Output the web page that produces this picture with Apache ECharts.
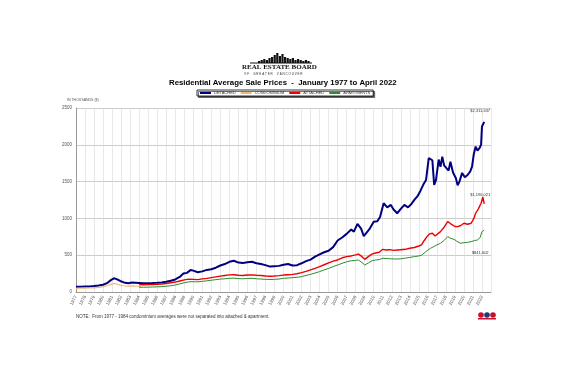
<!DOCTYPE html>
<html>
<head>
<meta charset="utf-8">
<script src="https://cdn.jsdelivr.net/npm/echarts@6/dist/echarts.min.js"></script>
<style>
  html, body { margin: 0; padding: 0; background: #fff; }
  #graph { width: 566px; height: 377px; }
</style>
</head>
<body>
<div id="graph"></div>
<script>
// values in thousands of dollars, x = decimal year
var detached = [
  [1977.0, 70], [1977.5, 72], [1978.0, 74], [1978.5, 76], [1979.0, 80], [1979.5, 88],
  [1980.0, 98], [1980.5, 125], [1980.9, 165], [1981.2, 186], [1981.5, 175], [1981.9, 150],
  [1982.3, 130], [1982.8, 118], [1983.2, 128], [1983.6, 125], [1984.0, 122], [1984.5, 118],
  [1985.0, 120], [1985.5, 122], [1986.0, 125], [1986.5, 130], [1987.0, 138], [1987.5, 152],
  [1988.0, 170], [1988.5, 205], [1988.9, 250], [1989.3, 260], [1989.7, 300], [1990.0, 290],
  [1990.5, 268], [1991.0, 280], [1991.5, 300], [1992.0, 310], [1992.5, 330], [1993.0, 360],
  [1993.5, 380], [1994.0, 410], [1994.5, 425], [1995.0, 400], [1995.5, 395], [1996.0, 405],
  [1996.5, 410], [1997.0, 390], [1997.5, 380], [1998.0, 365], [1998.5, 345], [1999.0, 350],
  [1999.5, 355], [2000.0, 370], [2000.5, 380], [2001.0, 360], [2001.5, 365], [2002.0, 390],
  [2002.5, 420], [2003.0, 440], [2003.5, 480], [2004.0, 510], [2004.5, 540], [2005.0, 560],
  [2005.5, 610], [2006.0, 700], [2006.5, 740], [2007.0, 790], [2007.5, 850], [2007.8, 820],
  [2008.2, 925], [2008.6, 860], [2008.9, 760], [2009.1, 775], [2009.5, 850], [2010.0, 956],
  [2010.4, 960], [2010.7, 1020], [2011.1, 1206], [2011.5, 1150], [2011.9, 1183], [2012.2, 1120],
  [2012.6, 1070], [2013.0, 1130], [2013.4, 1183], [2013.8, 1150], [2014.2, 1200], [2014.5, 1251],
  [2014.9, 1310], [2015.2, 1380], [2015.5, 1460], [2015.8, 1523], [2016.1, 1820], [2016.3, 1800],
  [2016.5, 1790], [2016.7, 1455], [2016.9, 1520], [2017.2, 1800], [2017.4, 1700], [2017.6, 1840],
  [2017.8, 1720], [2018.0, 1704], [2018.3, 1650], [2018.5, 1770], [2018.8, 1620], [2019.1, 1550],
  [2019.3, 1450], [2019.5, 1500], [2019.8, 1618], [2020.1, 1560], [2020.4, 1590], [2020.7, 1640],
  [2020.9, 1704], [2021.1, 1880], [2021.3, 1976], [2021.5, 1920], [2021.7, 1950], [2021.9, 2000],
  [2022.0, 2248], [2022.1, 2250], [2022.25, 2312]
];

var condominium = [
  [1977.0, 50], [1977.5, 52], [1978.0, 54], [1978.5, 55], [1979.0, 57], [1979.5, 62],
  [1980.0, 70], [1980.5, 88], [1981.0, 110], [1981.3, 115], [1981.7, 100], [1982.2, 85],
  [1982.7, 80], [1983.2, 82], [1983.7, 78], [1984.2, 76]
];

var attached = [
  [1984.0, 100], [1984.5, 98], [1985.0, 100], [1985.5, 102], [1986.0, 105], [1986.5, 108],
  [1987.0, 115], [1987.5, 125], [1988.0, 135], [1988.5, 150], [1989.0, 165], [1989.5, 175],
  [1990.0, 172], [1990.5, 168], [1991.0, 178], [1991.5, 185], [1992.0, 195], [1992.5, 205],
  [1993.0, 215], [1993.5, 225], [1994.0, 232], [1994.5, 235], [1995.0, 228], [1995.5, 225],
  [1996.0, 230], [1996.5, 232], [1997.0, 228], [1997.5, 225], [1998.0, 218], [1998.5, 215],
  [1999.0, 218], [1999.5, 222], [2000.0, 230], [2000.5, 235], [2001.0, 240], [2001.5, 248],
  [2002.0, 263], [2002.5, 280], [2003.0, 300], [2003.5, 320], [2004.0, 344], [2004.5, 370],
  [2005.0, 395], [2005.5, 420], [2006.0, 435], [2006.5, 465], [2007.0, 480], [2007.5, 490],
  [2008.0, 505], [2008.3, 517], [2008.7, 480], [2009.0, 444], [2009.4, 480], [2009.8, 515],
  [2010.2, 530], [2010.6, 540], [2011.0, 580], [2011.4, 570], [2011.8, 575], [2012.2, 565],
  [2012.6, 571], [2013.0, 575], [2013.5, 580], [2014.0, 594], [2014.5, 605], [2015.0, 625],
  [2015.3, 640], [2015.6, 700], [2015.9, 752], [2016.2, 790], [2016.5, 798], [2016.8, 760],
  [2017.0, 752], [2017.4, 820], [2017.8, 880], [2018.2, 956], [2018.5, 930], [2018.7, 911],
  [2019.0, 890], [2019.3, 888], [2019.6, 900], [2020.0, 934], [2020.4, 920], [2020.8, 934],
  [2021.1, 1000], [2021.3, 1070], [2021.6, 1130], [2021.9, 1206], [2022.1, 1290], [2022.25, 1196]
];

var apartments = [
  [1984.0, 64], [1984.5, 65], [1985.0, 66], [1985.5, 68], [1986.0, 70], [1986.5, 73],
  [1987.0, 78], [1987.5, 85], [1988.0, 95], [1988.5, 110], [1989.0, 125], [1989.5, 138],
  [1990.0, 140], [1990.5, 138], [1991.0, 145], [1991.5, 152], [1992.0, 160], [1992.5, 168],
  [1993.0, 175], [1993.5, 180], [1994.0, 186], [1994.5, 188], [1995.0, 182], [1995.5, 180],
  [1996.0, 184], [1996.5, 186], [1997.0, 180], [1997.5, 176], [1998.0, 172], [1998.5, 170],
  [1999.0, 172], [1999.5, 176], [2000.0, 186], [2000.5, 190], [2001.0, 195], [2001.5, 200],
  [2002.0, 209], [2002.5, 225], [2003.0, 240], [2003.5, 258], [2004.0, 277], [2004.5, 300],
  [2005.0, 320], [2005.5, 345], [2006.0, 367], [2006.5, 390], [2007.0, 410], [2007.5, 425],
  [2008.0, 430], [2008.3, 435], [2008.7, 400], [2009.0, 367], [2009.4, 395], [2009.8, 425],
  [2010.2, 435], [2010.6, 440], [2011.0, 458], [2011.5, 455], [2012.0, 450], [2012.5, 448],
  [2013.0, 451], [2013.5, 460], [2014.0, 470], [2014.5, 480], [2015.0, 490], [2015.3, 500],
  [2015.7, 540], [2016.0, 570], [2016.3, 594], [2016.7, 620], [2017.0, 640], [2017.4, 662],
  [2017.8, 700], [2018.2, 752], [2018.5, 730], [2018.9, 716], [2019.2, 690], [2019.6, 662],
  [2020.0, 670], [2020.4, 675], [2020.8, 684], [2021.2, 700], [2021.5, 707], [2021.8, 740],
  [2022.0, 820], [2022.25, 841]
];

var endLabels = ['$2,311,637', '$1,196,021', '$841,602'];
var seriesNames = ['DETACHED', 'CONDOMINIUM', 'ATTACHED', 'APARTMENTS'];

// skyline for the logo (heights in px)
var skyline = [2, 3, 4, 3, 5, 6, 8, 10, 7, 9, 6, 5, 4, 5, 3, 4, 3, 2, 3, 2];

function endMark(data, text, pos, dy) {
  return {
    silent: true,
    symbol: 'circle',
    symbolSize: 0,
    data: [{
      coord: data[data.length - 1],
      label: {
        show: true, formatter: text, position: pos, offset: [-4, dy],
        fontSize: 4, color: '#333', fontFamily: 'Arial, Liberation Sans'
      }
    }]
  };
}

var dom = document.getElementById('graph');
var myChart = echarts.init(dom);

var skyGraphics = skyline.map(function (h, i) {
  return {
    type: 'rect',
    shape: { x: 258 + i * 2.6, y: 63 - h, width: 2.2, height: h },
    style: { fill: '#111' }
  };
});

var option = {
  animation: false,
  backgroundColor: '#fff',
  title: {
    text: 'Residential Average Sale Prices  -  January 1977 to April 2022',
    left: 164,
    top: 74,
    textStyle: { fontSize: 7.8, fontWeight: 'bold', color: '#000', fontFamily: 'Arial, Liberation Sans' }
  },
  legend: {
    data: seriesNames,
    top: 90,
    left: 197,
    itemWidth: 11,
    itemHeight: 2,
    itemGap: 5,
    padding: [1, 3, 1, 3],
    borderColor: '#000',
    borderWidth: 0.8,
    shadowColor: '#555',
    shadowOffsetX: 1.5,
    shadowOffsetY: 1.5,
    shadowBlur: 0,
    backgroundColor: '#fff',
    icon: 'rect',
    textStyle: { fontSize: 4, color: '#333', fontFamily: 'Arial, Liberation Sans', padding: [0, 0, 0, -2] }
  },
  grid: { left: 76, right: 75, top: 108, bottom: 85 },
  xAxis: {
    type: 'value',
    min: 1977,
    max: 2023,
    interval: 1,
    axisLine: { lineStyle: { color: '#999' } },
    axisTick: { show: false },
    splitLine: { show: true, lineStyle: { color: '#d8d8d8', width: 0.6 } },
    axisLabel: {
      rotate: 62,
      fontSize: 4.5,
      color: '#444',
      margin: 4,
      fontFamily: 'Arial, Liberation Sans',
      formatter: function (v) { return v < 2023 ? String(v) : ''; }
    }
  },
  yAxis: {
    type: 'value',
    min: 0,
    max: 2500,
    interval: 500,
    name: 'IN THOUSANDS ($)',
    nameGap: 6,
    nameTextStyle: { fontSize: 3.5, color: '#555', align: 'left', padding: [0, 0, 0, -9], fontFamily: 'Arial, Liberation Sans' },
    axisLine: { show: true, lineStyle: { color: '#999' } },
    axisTick: { show: false },
    splitLine: { lineStyle: { color: '#aaa', width: 0.6 } },
    axisLabel: {
      fontSize: 4.5, color: '#555', margin: 4, fontFamily: 'Arial, Liberation Sans',
      formatter: function (v) { return String(v); }
    }
  },
  series: [
    {
      name: 'DETACHED', type: 'line', showSymbol: false, symbol: 'none',
      color: '#000080', lineStyle: { width: 2 },
      data: detached,
      markPoint: endMark(detached, endLabels[0], 'top', -4)
    },
    {
      name: 'CONDOMINIUM', type: 'line', showSymbol: false, symbol: 'none',
      color: '#f0b878', lineStyle: { width: 1.2 },
      data: condominium
    },
    {
      name: 'ATTACHED', type: 'line', showSymbol: false, symbol: 'none',
      color: '#ee0000', lineStyle: { width: 1.4 },
      data: attached,
      markPoint: endMark(attached, endLabels[1], 'top', -2)
    },
    {
      name: 'APARTMENTS', type: 'line', showSymbol: false, symbol: 'none',
      color: '#2e8b2e', lineStyle: { width: 1 },
      data: apartments,
      markPoint: endMark(apartments, endLabels[2], 'bottom', 16)
    }
  ],
  graphic: skyGraphics.concat([
    {
      type: 'rect', shape: { x: 250, y: 62.5, width: 62, height: 1 }, style: { fill: '#111' }
    },
    {
      type: 'text', left: 242, top: 64,
      style: { text: 'REAL ESTATE BOARD', font: 'bold 7px "Liberation Serif", serif', fill: '#111' }
    },
    {
      type: 'text', left: 244, top: 72.5,
      style: { text: 'O F     G R E A T E R     V A N C O U V E R', font: '3px Arial', fill: '#333' }
    },
    {
      type: 'text', left: 76, top: 314,
      style: { text: 'NOTE:  From 1977 - 1984 condominium averages were not separated into attached & apartment.', font: '4.5px Arial, "Liberation Sans"', fill: '#333' }
    },
    { type: 'circle', shape: { cx: 481, cy: 315, r: 2.8 }, style: { fill: '#c8102e' } },
    { type: 'circle', shape: { cx: 487, cy: 315, r: 2.8 }, style: { fill: '#1f3a7a' } },
    { type: 'circle', shape: { cx: 493, cy: 315, r: 2.8 }, style: { fill: '#c8102e' } },
    { type: 'rect', shape: { x: 478, y: 318, width: 18, height: 1.5 }, style: { fill: '#c8102e' } }
  ])
};

myChart.setOption(option, true);
</script>
</body>
</html>
